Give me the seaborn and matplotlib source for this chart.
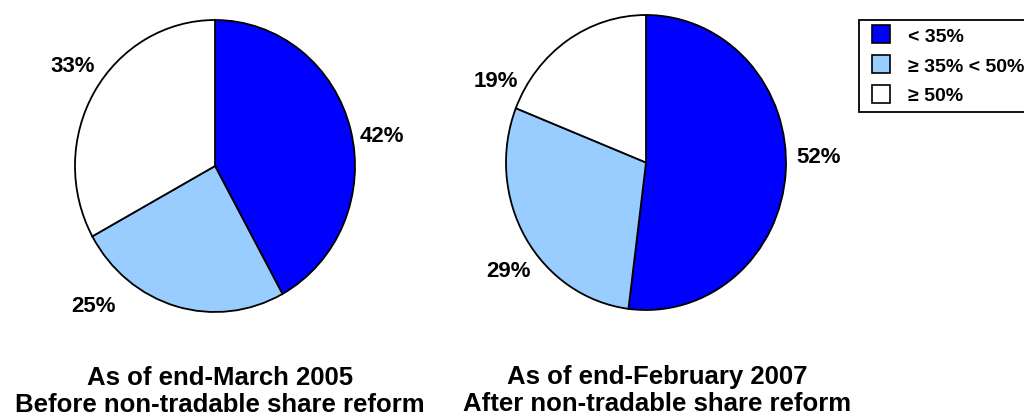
import matplotlib
matplotlib.use("Agg")
import matplotlib.pyplot as plt
from matplotlib.lines import Line2D
import seaborn as sns

# data
categories = ["< 35%", "\u2265 35% < 50%", "\u2265 50%"]
share_2005 = [42, 25, 33]
share_2007 = [52, 29, 19]
title_2005 = ["As of end-March 2005", "Before non-tradable share reform"]
title_2007 = ["As of end-February 2007", "After non-tradable share reform"]

sns.set_theme(style="white")
plt.rcParams["font.family"] = ["Liberation Sans", "DejaVu Sans"]
plt.rcParams["font.weight"] = "bold"

colors = sns.color_palette(["#0000FF", "#99CCFF", "#FFFFFF"])

W, H = 1024, 418
fig = plt.figure(figsize=(W / 100, H / 100), dpi=100)
fig.patch.set_facecolor("white")


def px_axes(x0, x1, y0, y1):
    return fig.add_axes([x0 / W, 1 - y1 / H, (x1 - x0) / W, (y1 - y0) / H])


def draw_pie(ax, values, label_pos):
    wedges, _ = ax.pie(values, colors=colors, startangle=90, counterclock=False,
                       wedgeprops=dict(edgecolor="black", linewidth=1.3))
    for w in wedges:
        w.set_clip_on(False)
    ax.set_aspect("auto")
    ax.set_xlim(-1, 1)
    ax.set_ylim(-1, 1)
    ax.axis("off")
    for v, (x, y) in zip(values, label_pos):
        ax.text(x, y, f"{v}%", ha="center", va="baseline", fontsize=16,
                fontweight="bold", color="black")


ax1 = px_axes(75, 355, 20, 312)
draw_pie(ax1, share_2005, [(1.19, 0.166), (-0.87, -0.998), (-1.02, 0.646)])

ax2 = px_axes(506, 786, 15, 310)
draw_pie(ax2, share_2007, [(1.236, -0.003), (-0.979, -0.774), (-1.071, 0.513)])

# titles below pies
for cx, lines, bases in [(220, title_2005, (385, 412)), (657, title_2007, (384, 411))]:
    for txt, b in zip(lines, bases):
        fig.text(cx / W, 1 - b / H, txt, ha="center", va="baseline",
                 fontsize=18.5, fontweight="bold", color="black")

handles = [Line2D([], [], linestyle="none", marker="s", markersize=13,
                  markerfacecolor=c, markeredgecolor="black", markeredgewidth=1.2)
           for c in colors]
leg = fig.legend(handles, categories, loc="upper left",
                 bbox_to_anchor=(859 / W, 1 - 20 / H), borderaxespad=0,
                 fontsize=14, frameon=True, fancybox=False, shadow=False,
                 handlelength=1.55, handleheight=0.93, handletextpad=0.62,
                 labelspacing=0.55, borderpad=0.36)
frame = leg.get_frame()
frame.set_edgecolor("black")
frame.set_linewidth(1.3)
frame.set_facecolor("white")
frame.set_alpha(1)
for t in leg.get_texts():
    t.set_fontweight("bold")
    t.set_color("black")

fig.savefig("out.png", dpi=100, facecolor="white")
